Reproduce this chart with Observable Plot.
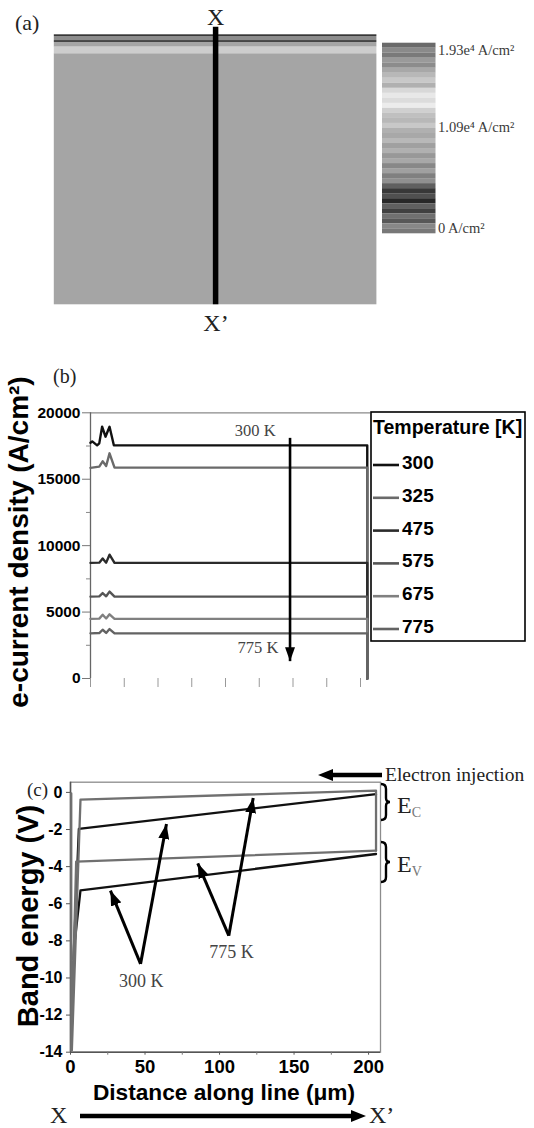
<!DOCTYPE html>
<html>
<head>
<meta charset="utf-8">
<script src="https://cdn.jsdelivr.net/npm/d3@7"></script>
<script src="https://cdn.jsdelivr.net/npm/@observablehq/plot@0.6"></script>
<style>
  html, body { margin: 0; padding: 0; background: #fff; }
  #fig { position: relative; width: 534px; height: 1128px; overflow: hidden; background: #fff; }
  #fig svg { position: absolute; }
</style>
</head>
<body>
<div id="fig"></div>
<script>
// ================= DATA =================
// Panel (a): device cross-section image, layers by depth (µm) and grey intensity (0-255)
const layerTop    = [0,   1.3, 4.4, 5.9, 9.5,  14.6];
const layerBottom = [1.3, 4.4, 5.9, 9.5, 14.6, 207];
const layerLevel  = [55,  140, 70,  165, 205,  165];
const cutLinePosition = 50;          // % of device width (line X–X')
// colour bar stripes (top = high current density), grey intensity
const colorbarLevel = [106,138,122,154,140,168,184,200,176,216,232,220,236,208,192,184,200,176,168,184,
                       160,176,152,168,136,160,128,144,96,56,80,40,96,64,112,88,136,120];
const colorbarMin = -608, colorbarMax = 20093;   // A/cm²
const colorbarTicks  = [0, 10900, 19300];
const colorbarLabels = ["0 A/cm²", "1.09e⁴ A/cm²", "1.93e⁴ A/cm²"];

// Panel (b): e-current density along X–X' for each temperature
const temperatures = ["300", "325", "475", "575", "675", "775"];
const dist300 = [0, 1.3, 4.9, 6.5, 8.6, 11.1, 14.1, 17.3, 205, 205];
const j300    = [17750, 17850, 17550, 17700, 18950, 18200, 18950, 17550, 17550, 0];
const distOther = [0, 6.5, 9.0, 11.6, 14.1, 17.8, 205, 205];
const j325 = [15850, 15950, 16350, 16000, 16950, 15870, 15870, 0];
const j475 = [8700, 8720, 9030, 8720, 9320, 8700, 8700, 0];
const j575 = [6160, 6180, 6430, 6190, 6540, 6160, 6160, 0];
const j675 = [4490, 4510, 4800, 4520, 4830, 4490, 4490, 0];
const j775 = [3400, 3420, 3670, 3430, 3720, 3400, 3400, 0];
const yTicksB = [0, 5000, 10000, 15000, 20000];
const yMinorB = [2500, 7500, 12500, 17500];
const xTicksB = [0, 25, 50, 75, 100, 125, 150, 175, 200];
const trendArrowB = {x: 147.8, from: 18114, to: 1306};
const trendLabelsB = [{x: 122, y: 18250, label: "300 K"}, {x: 124, y: 1950, label: "775 K"}];

// Panel (c): band energies (V) along X–X'
const ec300x = [2.0, 5.6, 205],          ec300y = [-9.0, -1.97, -0.09];
const ev300x = [2.5, 6.7, 205],          ev300y = [-8.3, -5.28, -3.32];
const ec775x = [0.9, 6.7, 205, 205],     ec775y = [-13.9, -0.39, 0.1, -3.14];
const ev775x = [0.5, 0.5, 3.8, 205],     ev775y = [-0.05, -13.9, -3.73, -3.14];
const yTicksC = [-14, -12, -10, -8, -6, -4, -2, 0];
const xTicksC = [0, 50, 100, 150, 200];
const xMinorC = [25, 75, 125, 175];
// annotation arrows (vertex -> tip) in data coords
const pointerVertex = [{x: 47.0, y: -9.24}, {x: 47.0, y: -9.24}, {x: 106.2, y: -7.72}, {x: 106.2, y: -7.72}];
const pointerTip    = [{x: 26.8, y: -5.29}, {x: 64.4, y: -1.70}, {x: 85.4, y: -3.82}, {x: 122.6, y: -0.30}];
const pointerLabels = [{x: 47.5, y: -10.46, label: "300 K"}, {x: 108, y: -8.95, label: "775 K"}];

// ================= HELPERS =================
const fig = document.getElementById("fig");
function place(node, top, left = 0) {
  node.style.position = "absolute";
  node.style.top = top + "px";
  node.style.left = left + "px";
  fig.appendChild(node);
  return node;
}
const SANS = "Liberation Sans, Arial, sans-serif";
const SERIF = "Liberation Serif, Times New Roman, serif";
const baseStyle = {background: "transparent", overflow: "visible"};
const NS = "http://www.w3.org/2000/svg";

// filled triangular arrow head (custom Plot marker)
function headMarker(len, wid) {
  return function (color, context) {
    const doc = (context && context.document) || document;
    const m = doc.createElementNS(NS, "marker");
    m.setAttribute("viewBox", `${-len} ${-wid / 2} ${len} ${wid}`);
    m.setAttribute("markerUnits", "userSpaceOnUse");
    m.setAttribute("markerWidth", len);
    m.setAttribute("markerHeight", wid);
    m.setAttribute("refX", 0);
    m.setAttribute("refY", 0);
    m.setAttribute("orient", "auto");
    const p = doc.createElementNS(NS, "path");
    p.setAttribute("d", `M${-len},${-wid / 2}L0,0L${-len},${wid / 2}Z`);
    p.setAttribute("fill", color);
    p.setAttribute("stroke", "none");
    m.appendChild(p);
    return m;
  };
}
// build a plot with filled-head links; fall back to Plot.arrow if custom markers are unsupported
function plotWithArrows(makeOptions) {
  try {
    return Plot.plot(makeOptions((data, o, len, wid) =>
      Plot.link(data, {...o, markerEnd: headMarker(len, wid), strokeLinecap: "butt"})));
  } catch (e) {
    return Plot.plot(makeOptions((data, o, len, wid) =>
      Plot.arrow(data, {...o, headLength: len, headAngle: 40})));
  }
}

// ================= PANEL (a) =================
const layers = layerTop.map((t, i) => ({top: t, bottom: layerBottom[i], level: layerLevel[i]}));
const greyScale = {type: "linear", domain: [0, 255], range: ["#000000", "#ffffff"]};

const chartA = Plot.plot({
  width: 534, height: 330,
  marginLeft: 53.8, marginRight: 157.6, marginTop: 34.3, marginBottom: 25.7,
  style: baseStyle,
  x: {domain: [0, 100], axis: null},
  y: {domain: [0, 207], reverse: true, axis: null},
  color: greyScale,
  marks: [
    Plot.rect(layers, {x1: 0, x2: 100, y1: "top", y2: "bottom", fill: "level"}),
    Plot.ruleX([cutLinePosition], {y1: -5.8, y2: 207, stroke: "#000", strokeWidth: 5.5})
  ]
});
place(chartA, 0);

const stripeStep = (colorbarMax - colorbarMin) / colorbarLevel.length;
const stripes = colorbarLevel.map((lv, i) => ({
  hi: colorbarMax - i * stripeStep, lo: colorbarMax - (i + 1) * stripeStep, level: lv
}));
const chartCB = Plot.plot({
  width: 152.5, height: 260,
  marginLeft: 0, marginRight: 99, marginTop: 42.7, marginBottom: 26.7,
  style: baseStyle,
  x: {domain: [0, 1], axis: null},
  y: {domain: [colorbarMin, colorbarMax]},
  color: greyScale,
  marks: [
    Plot.rect(stripes, {x1: 0, x2: 1, y1: "lo", y2: "hi", fill: "level"}),
    Plot.axisY(colorbarTicks, {anchor: "right", tickSize: 0, tickPadding: 2, label: null,
      tickFormat: (d) => colorbarLabels[colorbarTicks.indexOf(d)],
      fontFamily: SERIF, fontSize: 14.5, color: "#3a3a3a"})
  ]
});
place(chartCB, 0, 381.5);

// ================= PANEL (b) =================
const jSeries = [j300, j325, j475, j575, j675, j775];
const currentRows = [];
temperatures.forEach((T, k) => {
  const xs = k === 0 ? dist300 : distOther;
  xs.forEach((x, i) => currentRows.push({T, x, j: jSeries[k][i]}));
});
const chartB = plotWithArrows((arrowMark) => ({
  width: 534, height: 320,
  marginLeft: 90, marginRight: 164, marginTop: 22.3, marginBottom: 32,
  style: baseStyle,
  x: {domain: [0, 207.4], label: null},
  y: {domain: [0, 20000], label: null},
  color: {domain: temperatures, range: ["#111111", "#6a6a6a", "#2b2b2b", "#555555", "#808080", "#636363"]},
  marks: [
    Plot.ruleY([20000], {stroke: "#8a8a8a", strokeWidth: 1.3}),
    Plot.ruleX([0], {y1: 0, y2: 20000, stroke: "#666", strokeWidth: 1.3}),
    Plot.axisY(yTicksB, {tickSize: 8, tickPadding: 2, tickFormat: (d) => String(d), label: null,
      fontFamily: SANS, fontWeight: "bold", fontSize: 15.5, color: "#000", stroke: "#777"}),
    Plot.axisY(yMinorB, {tickSize: 4, tickFormat: () => "", label: null, stroke: "#888"}),
    Plot.axisX(xTicksB, {tickSize: 9, tickFormat: () => "", label: null, stroke: "#999"}),
    Plot.line(currentRows, {x: "x", y: "j", z: "T", stroke: "T", strokeWidth: 2.4}),
    arrowMark([trendArrowB], {x1: "x", x2: "x", y1: "from", y2: "to", stroke: "#000", strokeWidth: 2.6}, 14, 10),
    Plot.text(trendLabelsB, {x: "x", y: "y", text: "label", fontFamily: SERIF, fontSize: 16.5,
      fill: "#444", lineAnchor: "bottom"})
  ]
}));
place(chartB, 390);

// ================= PANEL (c) =================
const bandRows = [];
[["Ec", "300", ec300x, ec300y], ["Ev", "300", ev300x, ev300y],
 ["Ec", "775", ec775x, ec775y], ["Ev", "775", ev775x, ev775y]].forEach(([band, T, xs, ys]) => {
  xs.forEach((x, i) => bandRows.push({id: band + T, T, x, e: ys[i]}));
});
const pointers = pointerVertex.map((v, i) => ({x1: v.x, y1: v.y, x2: pointerTip[i].x, y2: pointerTip[i].y}));
const chartC = plotWithArrows((arrowMark) => ({
  width: 534, height: 330,
  marginLeft: 70, marginRight: 154, marginTop: 21.7, marginBottom: 38.3,
  style: baseStyle,
  x: {domain: [0, 208], label: null},
  y: {domain: [-14, 0.55], label: null},
  color: {domain: ["300", "775"], range: ["#111111", "#707070"]},
  marks: [
    Plot.frame({stroke: "#8c8c8c", strokeWidth: 1.3}),
    Plot.ruleX([0], {stroke: "#555", strokeWidth: 1.5}),
    Plot.ruleY([-14], {stroke: "#555", strokeWidth: 1.5}),
    Plot.axisY(yTicksC, {tickSize: 4, tickPadding: 4, tickFormat: (d) => String(d), label: null,
      fontFamily: SANS, fontWeight: "bold", fontSize: 16, color: "#000", stroke: "#555"}),
    Plot.axisX(xTicksC, {tickSize: 3, tickPadding: 5, tickFormat: (d) => String(d), label: null,
      fontFamily: SANS, fontWeight: "bold", fontSize: 18.5, color: "#000", stroke: "#555"}),
    Plot.axisX(xMinorC, {tickSize: 3, tickFormat: () => "", label: null, stroke: "#777"}),
    Plot.line(bandRows, {x: "x", y: "e", z: "id", stroke: "T", strokeWidth: 2.3}),
    arrowMark(pointers, {x1: "x1", y1: "y1", x2: "x2", y2: "y2", stroke: "#000", strokeWidth: 3}, 15, 11),
    Plot.text(pointerLabels, {x: "x", y: "y", text: "label", fontFamily: SERIF, fontSize: 18,
      fill: "#444", lineAnchor: "bottom"})
  ]
}));
place(chartC, 760);

// ================= OVERLAY TEXT & DECORATION =================
const ov = d3.create("svg").attr("width", 534).attr("height", 1128)
  .style("pointer-events", "none");
place(ov.node(), 0);
function txt(x, y, s, a = {}) {
  const t = ov.append("text").attr("x", x).attr("y", y).text(s);
  Object.entries(a).forEach(([k, v]) => t.attr(k, v));
  return t;
}
function arrowH(x1, x2, y, w, headL, headW) {
  const dir = Math.sign(x2 - x1);
  ov.append("line").attr("x1", x1).attr("x2", x2 - dir * headL * 0.8).attr("y1", y).attr("y2", y)
    .attr("stroke", "#000").attr("stroke-width", w);
  ov.append("path").attr("d", `M${x2},${y}L${x2 - dir * headL},${y - headW / 2}L${x2 - dir * headL},${y + headW / 2}Z`)
    .attr("fill", "#000");
}
function brace(x, y1, y2) {
  const m = (y1 + y2) / 2, d = 5;
  ov.append("path").attr("d",
    `M${x},${y1} Q${x + d},${y1} ${x + d},${y1 + 5} L${x + d},${m - 4} Q${x + d},${m} ${x + d + 4},${m}` +
    ` Q${x + d},${m} ${x + d},${m + 4} L${x + d},${y2 - 5} Q${x + d},${y2} ${x},${y2}`)
    .attr("fill", "none").attr("stroke", "#000").attr("stroke-width", 2.4);
}

// panel (a)
txt(15, 30, "(a)", {"font-family": SERIF, "font-size": 22, fill: "#222"});
txt(215.6, 25, "X", {"font-family": SERIF, "font-size": 24, "text-anchor": "middle", fill: "#222"});
txt(216, 331, "X’", {"font-family": SERIF, "font-size": 24, "text-anchor": "middle", fill: "#222"});

// panel (b)
txt(53, 383, "(b)", {"font-family": SERIF, "font-size": 20, fill: "#222"});
txt(0, 0, "e-current density (A/cm²)", {"font-family": SANS, "font-weight": "bold", "font-size": 28,
  "text-anchor": "middle", transform: "translate(28,542) rotate(-90)", fill: "#000"});
// legend
ov.append("rect").attr("x", 371).attr("y", 412).attr("width", 154).attr("height", 229)
  .attr("fill", "none").attr("stroke", "#000").attr("stroke-width", 1.6);
txt(373, 434, "Temperature [K]", {"font-family": SANS, "font-weight": "bold", "font-size": 19.5, fill: "#000"});
const colorB = chartB.scale("color");
temperatures.forEach((T, i) => {
  const yb = 469 + i * 32.8;
  ov.append("line").attr("x1", 373).attr("x2", 399).attr("y1", yb - 4).attr("y2", yb - 4)
    .attr("stroke", colorB.apply(T)).attr("stroke-width", 2.6);
  txt(402, yb, T, {"font-family": SANS, "font-weight": "bold", "font-size": 19, fill: "#000"});
});

// panel (c)
txt(27, 796, "(c)", {"font-family": SERIF, "font-size": 19, fill: "#222"});
txt(0, 0, "Band energy (V)", {"font-family": SANS, "font-weight": "bold", "font-size": 29,
  "text-anchor": "middle", transform: "translate(37.5,916) rotate(-90)", fill: "#000"});
txt(224, 1100, "Distance along line (μm)", {"font-family": SANS, "font-weight": "bold", "font-size": 22.7,
  "text-anchor": "middle", fill: "#000"});
txt(50, 1123, "X", {"font-family": SERIF, "font-size": 24, fill: "#222"});
arrowH(80, 366, 1116, 4.5, 15, 12);
txt(369, 1123, "X’", {"font-family": SERIF, "font-size": 24, fill: "#222"});
txt(385, 781, "Electron injection", {"font-family": SERIF, "font-size": 19.5, fill: "#222"});
arrowH(382, 318, 775, 4.5, 15, 12);
brace(381, 784, 820);
brace(381, 842, 882);
const ec = txt(397, 813, "E", {"font-family": SERIF, "font-size": 24, fill: "#222"});
ec.append("tspan").attr("dy", 4).attr("font-size", 14).attr("fill", "#777").text("C");
const evt = txt(397, 872, "E", {"font-family": SERIF, "font-size": 24, fill: "#222"});
evt.append("tspan").attr("dy", 4).attr("font-size", 14).attr("fill", "#777").text("V");
</script>
</body>
</html>
